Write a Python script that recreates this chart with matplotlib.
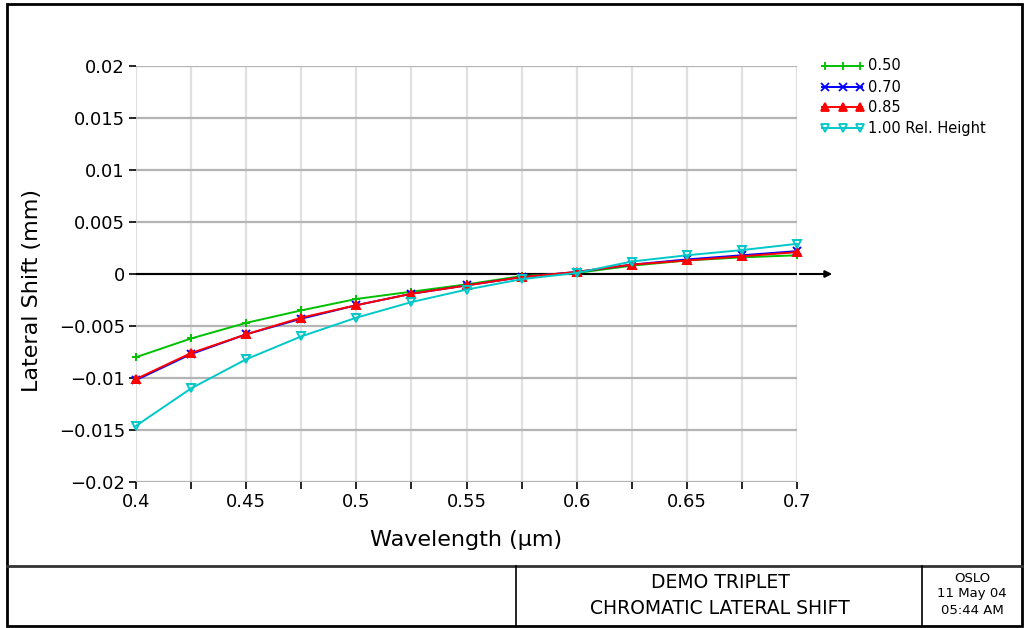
import matplotlib
matplotlib.use("Agg")
import matplotlib.pyplot as plt
from matplotlib.lines import Line2D
from matplotlib.patches import Rectangle

wavelength = [0.400, 0.425, 0.450, 0.475, 0.500, 0.525, 0.550, 0.575, 0.600, 0.625, 0.650, 0.675, 0.700]
h050 = [-0.0080, -0.0062, -0.0047, -0.0035, -0.0024, -0.0017, -0.0010, -0.0002, 0.0001, 0.0008, 0.0013, 0.0016, 0.0018]
h070 = [-0.0102, -0.0077, -0.0058, -0.0043, -0.0030, -0.0019, -0.0011, -0.0003, 0.0002, 0.0009, 0.0014, 0.0018, 0.0022]
h085 = [-0.0101, -0.0076, -0.0058, -0.0042, -0.0030, -0.0019, -0.0011, -0.0003, 0.0002, 0.0009, 0.0013, 0.0017, 0.0021]
h100 = [-0.0146, -0.0110, -0.0082, -0.0060, -0.0042, -0.0027, -0.0015, -0.0005, 0.0001, 0.0012, 0.0018, 0.0023, 0.0029]

series_labels = ["0.50", "0.70", "0.85", "1.00 Rel. Height"]
series_colors = ["#00c000", "#0000ff", "#ff0000", "#00c8c8"]
series_markers = ["+", "x", "^", "v"]
series_filled = [True, True, True, False]

yticks = [0.02, 0.015, 0.01, 0.005, 0, -0.005, -0.01, -0.015, -0.02]
ytick_labels = ["0.02", "0.015", "0.01", "0.005", "0", "\u22120.005", "\u22120.01", "\u22120.015", "\u22120.02"]
xticks = [0.40, 0.45, 0.50, 0.55, 0.60, 0.65, 0.70]
xtick_labels = ["0.4", "0.45", "0.5", "0.55", "0.6", "0.65", "0.7"]
xminor = [0.425, 0.475, 0.525, 0.575, 0.625, 0.675]

W, H = 1026, 628
fig = plt.figure(figsize=(W / 100, H / 100), dpi=100)

def fx(px):
    return px / W

def fy(py):
    return 1 - py / H

ax = fig.add_axes([fx(136), fy(482), fx(797) - fx(136), fy(66) - fy(482)])
ax.set_xlim(0.4, 0.7)
ax.set_ylim(-0.02, 0.02)
for s in ax.spines.values():
    s.set_visible(False)

ax.set_yticks(yticks)
ax.set_yticklabels(ytick_labels)
ax.set_xticks(xticks)
ax.set_xticklabels(xtick_labels)
ax.set_xticks(xminor, minor=True)
ax.tick_params(axis="both", which="both", direction="out", length=5, width=1.2,
               color="black", labelsize=13, pad=3)
ax.yaxis.grid(True, color="#b4b4b4", lw=1.6)
ax.xaxis.grid(True, which="both", color="#e0e0e0", lw=1.6)
ax.set_axisbelow(True)

ax.axhline(0, color="black", lw=1.5, zorder=2)
ax.annotate("", xy=(fx(835), fy(274)), xycoords="figure fraction",
            xytext=(0.7, 0), textcoords="data",
            arrowprops=dict(arrowstyle="-|>", color="black", lw=1.5, mutation_scale=10))

all_series = [h050, h070, h085, h100]
for i in range(4):
    ax.plot(wavelength, all_series[i], color=series_colors[i], lw=1.4,
            marker=series_markers[i], markersize=5.5, markeredgewidth=1.4,
            markerfacecolor=series_colors[i] if series_filled[i] else "none",
            zorder=3 + i, clip_on=False)

fig.text(fx(32), fy(290), "Lateral Shift (mm)", rotation=90, ha="center", va="center", fontsize=16)
fig.text(fx(466), fy(540), "Wavelength (\u00b5m)", ha="center", va="center", fontsize=16)

# legend
leg_y = [66, 87, 107, 128]
for i in range(4):
    y = fy(leg_y[i])
    fig.add_artist(Line2D([fx(822), fx(862)], [y, y], color=series_colors[i], lw=1.4))
    fig.add_artist(Line2D([fx(825), fx(843), fx(860)], [y, y, y], color=series_colors[i], lw=0,
                          marker=series_markers[i], markersize=5.5, markeredgewidth=1.3,
                          markerfacecolor=series_colors[i] if series_filled[i] else "none"))
    fig.text(fx(868), y, series_labels[i], ha="left", va="center", fontsize=10.5)

# frame and title block
fig.add_artist(Rectangle((fx(7), fy(626)), fx(1022) - fx(7), fy(4) - fy(626),
                         fill=False, edgecolor="black", lw=2))
fig.add_artist(Line2D([fx(7), fx(1022)], [fy(566), fy(566)], color="#333333", lw=2))
fig.add_artist(Line2D([fx(516), fx(516)], [fy(566), fy(626)], color="black", lw=1.2))
fig.add_artist(Line2D([fx(922), fx(922)], [fy(566), fy(626)], color="black", lw=1.2))

fig.text(fx(720), fy(583), "DEMO TRIPLET", ha="center", va="center", fontsize=13.5)
fig.text(fx(720), fy(609), "CHROMATIC LATERAL SHIFT", ha="center", va="center", fontsize=13.5)
fig.text(fx(972), fy(578), "OSLO", ha="center", va="center", fontsize=9.5)
fig.text(fx(972), fy(594), "11 May 04", ha="center", va="center", fontsize=9.5)
fig.text(fx(972), fy(610), "05:44 AM", ha="center", va="center", fontsize=9.5)

fig.savefig("out.png", dpi=100, facecolor="white")
